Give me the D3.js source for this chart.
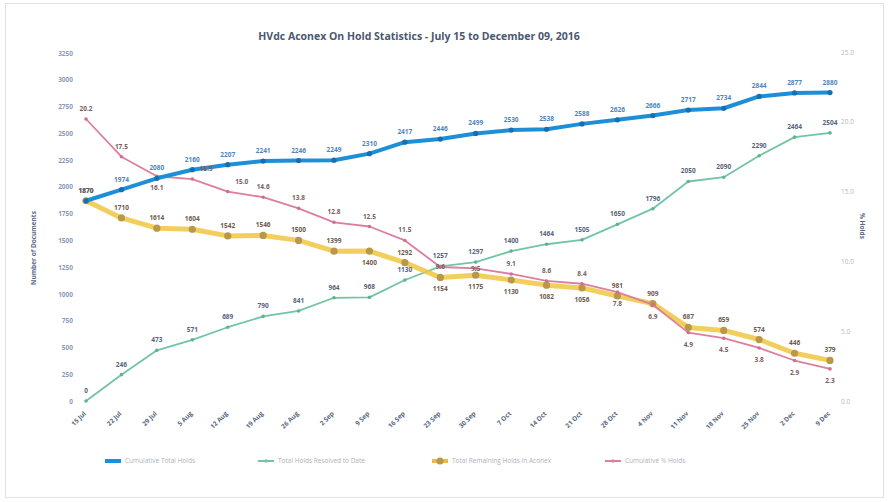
<!DOCTYPE html>
<meta charset="utf-8">
<style>
body { margin: 0; background: #fff; }
text { font-family: "Open Sans", sans-serif; }
.lbl { font-size: 6.5px; font-weight: bold; text-anchor: middle; }
.tick text { font-size: 6.5px; }
</style>
<body>
<script src="https://d3js.org/d3.v7.min.js"></script>
<script>

var width = 890,
    height = 502;

var dates = ["15 Jul","22 Jul","29 Jul","5 Aug","12 Aug","19 Aug","26 Aug","2 Sep","9 Sep","16 Sep","23 Sep",
             "30 Sep","7 Oct","14 Oct","21 Oct","28 Oct","4 Nov","11 Nov","18 Nov","25 Nov","2 Dec","9 Dec"];

var cumulativeHolds = [1870,1974,2080,2160,2207,2241,2246,2249,2310,2417,2446,2499,2530,2538,2588,2626,2666,2717,2734,2844,2877,2880];
var resolvedHolds   = [0,246,473,571,689,790,841,964,968,1130,1257,1297,1400,1464,1505,1650,1796,2050,2090,2290,2464,2504];
var remainingHolds  = [1870,1710,1614,1604,1542,1546,1500,1399,1400,1292,1154,1175,1130,1082,1056,981,909,687,659,574,446,379];
var pctOnHold       = [20.2,17.5,16.1,15.9,15.0,14.6,13.8,12.8,12.5,11.5,9.6,9.5,9.1,8.6,8.4,7.8,6.9,4.9,4.5,3.8,2.9,2.3];

var leftTicks = d3.range(0, 3251, 250);
var rightTicks = [0, 5, 10, 15, 20, 25];

var seriesNames = ["Cumulative Total Holds", "Total Holds Resolved to Date",
                   "Total Remaining Holds in Aconex", "Cumulative % Holds"];

var svg = d3.select("body").append("svg")
    .attr("width", width)
    .attr("height", height);

svg.append("rect")
    .attr("x", 5.5).attr("y", 3.5)
    .attr("width", 878).attr("height", 494)
    .attr("fill", "#fff").attr("stroke", "#e2e2e2");

var x = d3.scalePoint().domain(dates).range([86, 830]);
var y = d3.scaleLinear().domain([0, 3250]).range([401, 53]);
var y2 = d3.scaleLinear().domain([0, 25]).range([401, 52]);

// title
svg.append("text")
    .attr("x", 419).attr("y", 40)
    .attr("text-anchor", "middle")
    .style("font-size", "10.5px").style("font-weight", "bold")
    .attr("fill", "#4a5870")
    .text("HVdc Aconex On Hold Statistics - July 15 to December 09, 2016");

// axes
var yAxis = svg.append("g")
    .attr("class", "tick")
    .attr("transform", "translate(76,0)")
    .call(d3.axisLeft(y).tickValues(leftTicks).tickSize(0).tickFormat(d3.format("d")));
yAxis.select(".domain").remove();
yAxis.selectAll("text").attr("fill", "#8a9bbb").style("font-weight", "bold");

var yAxis2 = svg.append("g")
    .attr("class", "tick")
    .attr("transform", "translate(838,0)")
    .call(d3.axisRight(y2).tickValues(rightTicks).tickSize(0).tickFormat(d3.format(".1f")));
yAxis2.select(".domain").remove();
yAxis2.selectAll("text").attr("fill", "#b4b8c0");

var xAxis = svg.append("g")
    .attr("transform", "translate(0,414)")
    .call(d3.axisBottom(x).tickSize(0).tickFormat(function(d) { return d; }));
xAxis.select(".domain").remove();
xAxis.selectAll("text")
    .attr("text-anchor", "end")
    .attr("dy", 0).attr("y", 0)
    .attr("transform", "rotate(-45)")
    .attr("fill", "#5a6a82")
    .style("font-size", "6.5px").style("font-weight", "bold");

svg.append("text")
    .attr("transform", "translate(36,248) rotate(-90)")
    .attr("text-anchor", "middle")
    .style("font-size", "6.5px").style("font-weight", "bold")
    .attr("fill", "#5a6a88")
    .text("Number of Documents");

svg.append("text")
    .attr("transform", "translate(860,226) rotate(90)")
    .attr("text-anchor", "middle")
    .style("font-size", "6.5px").style("font-weight", "bold")
    .attr("fill", "#5a6a88")
    .text("% Holds");

function draw(values, scale, opt) {
  var line = d3.line()
      .x(function(d, i) { return x(dates[i]); })
      .y(function(d) { return scale(d); });
  svg.append("path")
      .datum(values)
      .attr("d", line)
      .attr("fill", "none")
      .attr("stroke", opt.color)
      .attr("stroke-width", opt.width)
      .attr("stroke-opacity", opt.opacity || 1)
      .attr("stroke-linejoin", "round");
  svg.append("g").selectAll("circle")
      .data(values)
    .enter().append("circle")
      .attr("cx", function(d, i) { return x(dates[i]); })
      .attr("cy", function(d) { return scale(d); })
      .attr("r", opt.r)
      .attr("fill", opt.marker);
}

// place: -1 above, 1 below, 0 on the point
function labels(values, scale, fmt, color, place, shift) {
  svg.append("g").selectAll("text")
      .data(values)
    .enter().append("text")
      .attr("class", "lbl")
      .attr("x", function(d, i) { return x(dates[i]) + (shift ? shift(i) : 0); })
      .attr("y", function(d, i) {
        var p = place(i);
        return scale(d) + (p > 0 ? 14 : (p < 0 ? -8 : 2.5));
      })
      .attr("fill", color)
      .text(function(d) { return fmt(d); });
}

draw(resolvedHolds, y, {color: "#72c4a6", width: 1.8, r: 1.8, marker: "#5fb393"});
draw(remainingHolds, y, {color: "#f0c540", width: 5, opacity: 0.85, r: 3.6, marker: "#b8994a"});
draw(pctOnHold, y2, {color: "#dc7f9e", width: 1.8, r: 1.8, marker: "#d07090"});
draw(cumulativeHolds, y, {color: "#1d8fd8", width: 4, r: 2.6, marker: "#1670b0"});

labels(cumulativeHolds, y, d3.format("d"), "#4f86bd", function() { return -1; });
labels(resolvedHolds, y, d3.format("d"), "#56647e", function() { return -1; });
labels(remainingHolds, y, d3.format("d"), "#6e5a4c", function(i) { return (i == 8 || (i >= 10 && i <= 14)) ? 1 : -1; });
labels(pctOnHold, y2, d3.format(".1f"), "#7a5e62",
    function(i) { return (i == 2 || i >= 15) ? 1 : ((i == 10 || i == 11) ? 0 : -1); },
    function(i) { return (i == 3 || i == 4) ? 14 : 0; });

// legend
var legendX = [105, 258, 432, 605];
var legendColors = ["#1d8fd8", "#72c4a6", "#e8b94c", "#dc7f9e"];
var legend = svg.append("g").selectAll("g")
    .data(seriesNames)
  .enter().append("g")
    .attr("transform", function(d, i) { return "translate(" + legendX[i] + ",461)"; });
legend.append("line")
    .attr("x1", 0).attr("x2", 16)
    .attr("stroke", function(d, i) { return legendColors[i]; })
    .attr("stroke-width", function(d, i) { return i == 0 ? 4 : (i == 2 ? 4 : 2); });
legend.append("circle")
    .attr("cx", 8).attr("r", function(d, i) { return i == 2 ? 3.5 : 1.8; })
    .attr("fill", function(d, i) { return i == 2 ? "#b8994a" : legendColors[i]; });
legend.append("text")
    .attr("x", 20).attr("dy", "0.35em")
    .style("font-size", "6.5px")
    .attr("fill", "#aeb2b8")
    .text(function(d) { return d; });

</script>
</body>
